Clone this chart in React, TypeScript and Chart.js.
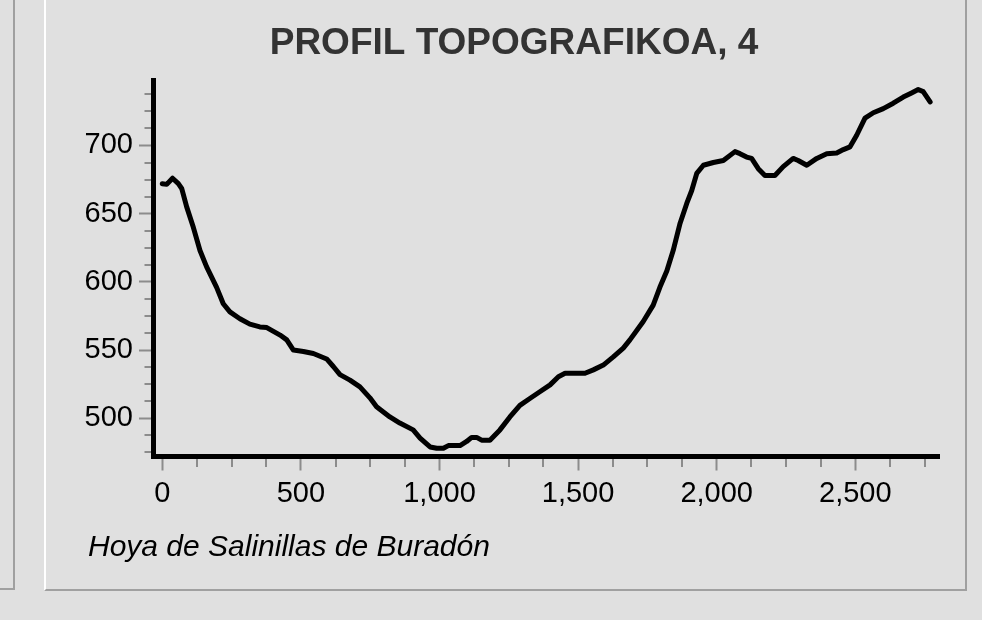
import React, { useEffect, useRef } from 'react';
import { Chart, registerables } from 'chart.js';

Chart.register(...registerables);

// Distance along the profile (m)
const distances = [
  0, 16, 37, 58, 70, 88, 112, 136, 160, 196, 220, 244, 280, 316, 352, 377, 425, 449, 473, 509,
  545, 593, 617, 641, 677, 713, 749, 773, 821, 857, 905, 930, 966, 990, 1014, 1032, 1074, 1098, 1116, 1134,
  1152, 1182, 1218, 1254, 1290, 1326, 1362, 1399, 1429, 1453, 1525, 1555, 1591, 1627, 1663, 1687, 1735, 1771, 1795, 1820,
  1843, 1868, 1892, 1910, 1928, 1952, 1988, 2024, 2066, 2084, 2108, 2126, 2150, 2174, 2210, 2240, 2276, 2294, 2325, 2361,
  2397, 2433, 2457, 2481, 2505, 2535, 2565, 2601, 2637, 2673, 2703, 2727, 2745, 2770,
];

// Elevation (m)
const elevations = [
  672, 671.5, 676, 672, 668.5, 655, 640, 623, 611, 596, 584, 578, 573, 569, 567, 566.5, 561, 557.5, 550, 549,
  547.5, 543.5, 538, 532, 528, 523, 515, 508.5, 501, 496.5, 491.5, 485.5, 479, 478, 478, 480, 480, 483, 486, 486,
  484, 484, 491.5, 501, 509.5, 514.5, 519.5, 524.5, 530.5, 533, 533, 535.5, 539, 545, 551.5, 557.5, 571, 583, 596, 608,
  623, 643, 657.5, 667, 679.5, 685.5, 687.5, 689, 695.5, 694, 691.5, 690.5, 683, 678, 678, 684.5, 690.5, 689, 685.5, 690.5,
  694, 694.5, 697, 699, 707.5, 720, 724, 727, 731, 735.5, 738.5, 741, 739.5, 732,
];

// Labelled (major) ticks
const xTickValues = [0, 500, 1000, 1500, 2000, 2500];
const yTickValues = [500, 550, 600, 650, 700];

const titleText = 'PROFIL TOPOGRAFIKOA, 4';
const locationLabel = 'Hoya de Salinillas de Buradón';

const xMin = -33.5;
const xMax = 2802;
const xMinorStep = 125;
const yMin = 472;
const yMax = 748;
const yMinorStep = 12.5;

const FONT = "'Liberation Sans', Arial, Helvetica, sans-serif";
const TICK_GRAY = '#8c8c8c';

const minorTicksPlugin = {
  id: 'minorTicks',
  afterDraw(chart: any) {
    const { ctx, chartArea } = chart;
    const xs = chart.scales.x;
    const ys = chart.scales.y;
    ctx.save();
    ctx.strokeStyle = TICK_GRAY;
    ctx.lineWidth = 2;
    for (let v = Math.ceil(xs.min / xMinorStep) * xMinorStep; v <= xs.max; v += xMinorStep) {
      if (xTickValues.includes(v)) continue;
      const px = Math.round(xs.getPixelForValue(v));
      ctx.beginPath();
      ctx.moveTo(px, chartArea.bottom + 2.5);
      ctx.lineTo(px, chartArea.bottom + 10.5);
      ctx.stroke();
    }
    for (let v = Math.ceil(ys.min / yMinorStep) * yMinorStep; v <= ys.max; v += yMinorStep) {
      if (yTickValues.includes(v)) continue;
      const py = Math.round(ys.getPixelForValue(v));
      ctx.beginPath();
      ctx.moveTo(chartArea.left - 8.5, py);
      ctx.lineTo(chartArea.left - 2, py);
      ctx.stroke();
    }
    ctx.restore();
  },
};

function ProfileChart() {
  const canvasRef = useRef<HTMLCanvasElement | null>(null);

  useEffect(() => {
    if (!canvasRef.current) return;
    const points = distances.map((d, i) => ({ x: d, y: elevations[i] }));
    const chart = new Chart(canvasRef.current, {
      type: 'line',
      data: {
        datasets: [
          {
            data: points,
            borderColor: '#000000',
            borderWidth: 5,
            pointRadius: 0,
            tension: 0,
            borderJoinStyle: 'round',
            borderCapStyle: 'round',
            fill: false,
          },
        ],
      },
      options: {
        responsive: false,
        animation: false,
        events: [],
        layout: { padding: { left: 80, right: 34, top: 0, bottom: 103.5 } },
        plugins: {
          legend: { display: false },
          tooltip: { enabled: false },
          title: {
            display: true,
            text: titleText,
            color: '#333333',
            font: { family: FONT, size: 37, weight: 'bold' },
            padding: { top: 21.5, bottom: 14.1 },
          },
        },
        scales: {
          x: {
            type: 'linear',
            min: xMin,
            max: xMax,
            afterFit: (s: any) => {
              s.height = 60;
            },
            afterBuildTicks: (s: any) => {
              s.ticks = xTickValues.map((v) => ({ value: v }));
            },
            ticks: {
              color: '#000',
              padding: 6,
              maxRotation: 0,
              autoSkip: false,
              font: { family: FONT, size: 29 },
            },
            grid: {
              display: true,
              drawOnChartArea: false,
              drawTicks: true,
              tickLength: 14,
              tickColor: TICK_GRAY,
              tickWidth: 2,
            },
            border: { display: true, color: '#000', width: 5 },
          },
          y: {
            type: 'linear',
            position: 'left',
            min: yMin,
            max: yMax,
            afterFit: (s: any) => {
              s.width = 73;
            },
            afterBuildTicks: (s: any) => {
              s.ticks = yTickValues.map((v) => ({ value: v }));
            },
            ticks: {
              color: '#000',
              padding: 6,
              autoSkip: false,
              font: { family: FONT, size: 29 },
            },
            grid: {
              display: true,
              drawOnChartArea: false,
              drawTicks: true,
              tickLength: 14,
              tickColor: TICK_GRAY,
              tickWidth: 2,
            },
            border: { display: true, color: '#000', width: 5 },
          },
          spacer: {
            type: 'linear',
            position: 'right',
            display: true,
            afterFit: (s: any) => {
              s.width = 9;
            },
            ticks: { display: false },
            grid: { display: false, drawTicks: false },
            border: { display: false },
          },
        },
      },
      plugins: [minorTicksPlugin],
    } as any);
    return () => {
      chart.destroy();
    };
  }, []);

  return (
    <canvas
      ref={canvasRef}
      width={982}
      height={620}
      style={{ position: 'absolute', left: 0, top: 0, width: 982, height: 620, display: 'block' }}
    />
  );
}

export default function App() {
  return (
    <div
      style={{
        position: 'fixed',
        left: 0,
        top: 0,
        width: 982,
        height: 620,
        background: '#e0e0e0',
        overflow: 'hidden',
      }}
    >
      <div
        style={{
          position: 'absolute',
          left: -10,
          top: -10,
          width: 23,
          height: 598,
          borderRight: '2px solid #a0a0a0',
          borderBottom: '2px solid #a0a0a0',
        }}
      />
      <div
        style={{
          position: 'absolute',
          left: 44,
          top: -10,
          width: 919,
          height: 599,
          borderLeft: '2px solid #ffffff',
          borderRight: '2px solid #a0a0a0',
          borderBottom: '2px solid #a0a0a0',
        }}
      />
      <ProfileChart />
      <div
        style={{
          position: 'absolute',
          left: 88,
          top: 530.6,
          fontFamily: FONT,
          fontStyle: 'italic',
          fontSize: 30,
          lineHeight: '30px',
          color: '#000',
          whiteSpace: 'nowrap',
        }}
      >
        {locationLabel}
      </div>
    </div>
  );
}
